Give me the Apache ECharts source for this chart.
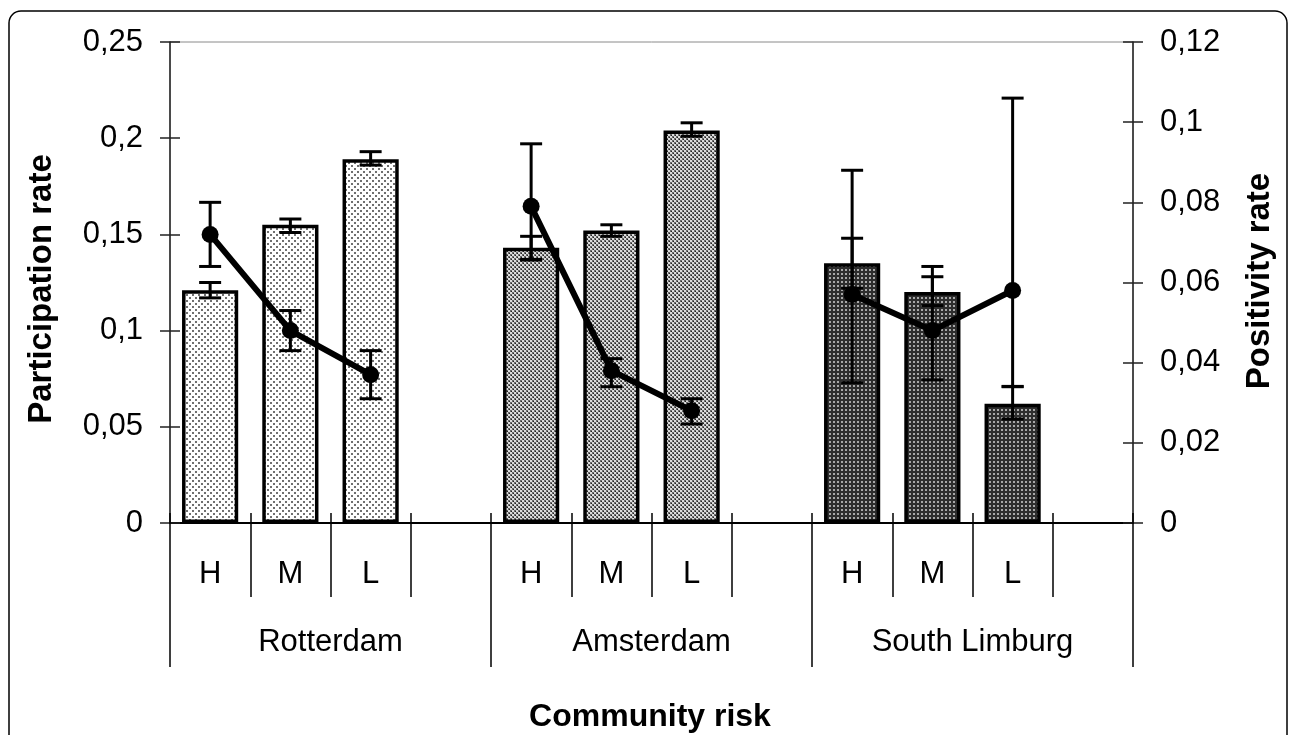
<!DOCTYPE html>
<html>
<head>
<meta charset="utf-8">
<script src="https://cdn.jsdelivr.net/npm/echarts@6/dist/echarts.min.js"></script>
<style>
html,body{margin:0;padding:0;background:#fff;}
#c{width:1290px;height:735px;}
</style>
</head>
<body>
<div id="c"></div>
<script>
// ---- data ----
const riskLevels = ['H', 'M', 'L', '', 'H', 'M', 'L', '', 'H', 'M', 'L', ''];
const regions = ['Rotterdam', 'Amsterdam', 'South Limburg'];
const participation     = [0.121, 0.155, 0.189, null, 0.143, 0.152, 0.204, null, 0.135, 0.120, 0.062, null];
const participationLow  = [0.117, 0.151, 0.186, null, 0.137, 0.149, 0.201, null, 0.122, 0.113, 0.054, null];
const participationHigh = [0.125, 0.158, 0.193, null, 0.149, 0.155, 0.208, null, 0.148, 0.128, 0.071, null];
const positivity     = [0.072, 0.048, 0.037, null, 0.079, 0.038, 0.028, null, 0.057, 0.048, 0.058, null];
const positivityLow  = [0.064, 0.043, 0.031, null, 0.0656, 0.034, 0.0247, null, 0.035, 0.0357, 0.034, null];
const positivityHigh = [0.080, 0.053, 0.043, null, 0.0946, 0.041, 0.031, null, 0.088, 0.064, 0.106, null];
const leftTicks = {min: 0, max: 0.25, interval: 0.05};
const rightTicks = {min: 0, max: 0.12, interval: 0.02};

// ---- patterns ----
function makePattern(w, h, bg, dots) {
  const cv = document.createElement('canvas');
  cv.width = w; cv.height = h;
  const ctx = cv.getContext('2d');
  ctx.fillStyle = bg; ctx.fillRect(0, 0, w, h);
  dots.forEach(d => { ctx.fillStyle = d[3]; ctx.fillRect(d[0], d[1], d[2], d[2]); });
  return {image: cv, repeat: 'repeat'};
}
const patterns = [
  makePattern(6, 6, '#ffffff', [[0, 0, 2, '#707070'], [3, 3, 2, '#707070']]),
  makePattern(4, 4, '#dcdcdc', [[0, 0, 2, '#6a6a6a'], [2, 2, 2, '#6a6a6a'], [1, 1, 1, '#222'], [3, 3, 1, '#222']]),
  makePattern(4, 4, '#2e2e2e', [[1, 1, 2, '#a8a8a8']])
];

const fontFam = '"Liberation Sans", Arial, sans-serif';
const fmt = v => String(+v.toFixed(4)).replace('.', ',');

const barData = participation.map((v, i) => ({
  value: v === null ? '-' : v,
  itemStyle: {color: patterns[Math.floor(i / 4)]}
}));
const lineData = positivity.map(v => v === null ? '-' : v);
function errData(lo, hi) {
  const out = [];
  lo.forEach((v, i) => { if (v !== null) out.push([i, v, hi[i]]); });
  return out;
}
function errRender(params, api) {
  const x = api.value(0);
  const a = api.coord([x, api.value(1)]);
  const b = api.coord([x, api.value(2)]);
  const hw = 11;
  const st = {stroke: '#000', lineWidth: 3};
  return {
    type: 'group',
    children: [
      {type: 'line', shape: {x1: a[0], y1: a[1], x2: b[0], y2: b[1]}, style: st},
      {type: 'line', shape: {x1: a[0] - hw, y1: a[1], x2: a[0] + hw, y2: a[1]}, style: st},
      {type: 'line', shape: {x1: b[0] - hw, y1: b[1], x2: b[0] + hw, y2: b[1]}, style: st}
    ]
  };
}

const chart = echarts.init(document.getElementById('c'), null, {renderer: 'canvas'});
const labelStyle = {color: '#000', fontSize: 31, fontFamily: fontFam};
const option = {
  animation: false,
  backgroundColor: '#fff',
  grid: {left: 170, right: 157, top: 42, bottom: 212, show: true, borderColor: '#8a8a8a', borderWidth: 1, backgroundColor: 'transparent'},
  xAxis: [
    {
      type: 'category', data: riskLevels, position: 'bottom',
      axisLine: {show: true, lineStyle: {color: '#000', width: 2}},
      axisTick: {show: true, interval: 0, length: 74, lineStyle: {color: '#000', width: 1.5}},
      axisLabel: Object.assign({interval: 0, margin: 36}, labelStyle),
      splitLine: {show: false}
    },
    {
      type: 'category', data: regions, position: 'bottom',
      axisLine: {show: false},
      axisTick: {show: true, interval: 0, length: 144, lineStyle: {color: '#000', width: 1.5}},
      axisLabel: Object.assign({interval: 0, margin: 104}, labelStyle),
      splitLine: {show: false}
    },
    {
      type: 'category', data: riskLevels, position: 'bottom',
      axisLine: {show: false},
      axisTick: {show: true, inside: true, interval: 0, length: 10, lineStyle: {color: '#000', width: 1.5}},
      axisLabel: {show: false},
      splitLine: {show: false}
    }
  ],
  yAxis: [
    Object.assign({
      type: 'value', position: 'left',
      axisLine: {show: true, lineStyle: {color: '#222', width: 1.5}},
      axisTick: {show: true, length: 10, lineStyle: {color: '#222', width: 1.5}},
      axisLabel: Object.assign({margin: 27, formatter: fmt}, labelStyle),
      splitLine: {show: false}
    }, leftTicks),
    Object.assign({
      type: 'value', position: 'right',
      axisLine: {show: true, lineStyle: {color: '#222', width: 1.5}},
      axisTick: {show: true, length: 10, lineStyle: {color: '#222', width: 1.5}},
      axisLabel: Object.assign({margin: 27, formatter: fmt}, labelStyle),
      splitLine: {show: false}
    }, rightTicks),
    Object.assign({
      type: 'value', position: 'left',
      axisLine: {show: false},
      axisTick: {show: true, inside: true, length: 10, lineStyle: {color: '#222', width: 1.5}},
      axisLabel: {show: false},
      splitLine: {show: false}
    }, leftTicks),
    Object.assign({
      type: 'value', position: 'right',
      axisLine: {show: false},
      axisTick: {show: true, inside: true, length: 10, lineStyle: {color: '#222', width: 1.5}},
      axisLabel: {show: false},
      splitLine: {show: false}
    }, rightTicks)
  ],
  series: [
    {
      type: 'bar', name: 'Participation rate', xAxisIndex: 0, yAxisIndex: 0,
      data: barData, barWidth: '70%', z: 2,
      itemStyle: {borderColor: '#000', borderWidth: 3.5}
    },
    {
      type: 'custom', name: 'Participation CI', xAxisIndex: 0, yAxisIndex: 0,
      data: errData(participationLow, participationHigh),
      encode: {x: 0, y: [1, 2]}, renderItem: errRender, z: 3
    },
    {
      type: 'custom', name: 'Positivity CI', xAxisIndex: 0, yAxisIndex: 1,
      data: errData(positivityLow, positivityHigh),
      encode: {x: 0, y: [1, 2]}, renderItem: errRender, z: 4
    },
    {
      type: 'line', name: 'Positivity rate', xAxisIndex: 0, yAxisIndex: 1,
      data: lineData, connectNulls: false, z: 5,
      symbol: 'circle', symbolSize: 17, showSymbol: true,
      lineStyle: {color: '#000', width: 6},
      itemStyle: {color: '#000'}
    }
  ],
  graphic: [
    {type: 'rect', z: 100, shape: {x: 9, y: 11, width: 1278, height: 800, r: 12},
     style: {fill: 'none', stroke: '#000', lineWidth: 1.5}},
    {type: 'text', z: 100, x: 42, y: 289, rotation: Math.PI / 2,
     style: {text: 'Participation rate', font: 'bold 33px ' + fontFam, fill: '#000', textAlign: 'center', textVerticalAlign: 'middle'}},
    {type: 'text', z: 100, x: 1260, y: 281, rotation: Math.PI / 2,
     style: {text: 'Positivity rate', font: 'bold 33px ' + fontFam, fill: '#000', textAlign: 'center', textVerticalAlign: 'middle'}},
    {type: 'text', z: 100, x: 650, y: 717,
     style: {text: 'Community risk', font: 'bold 32px ' + fontFam, fill: '#000', textAlign: 'center', textVerticalAlign: 'middle'}}
  ]
};
chart.setOption(option);
</script>
</body>
</html>
